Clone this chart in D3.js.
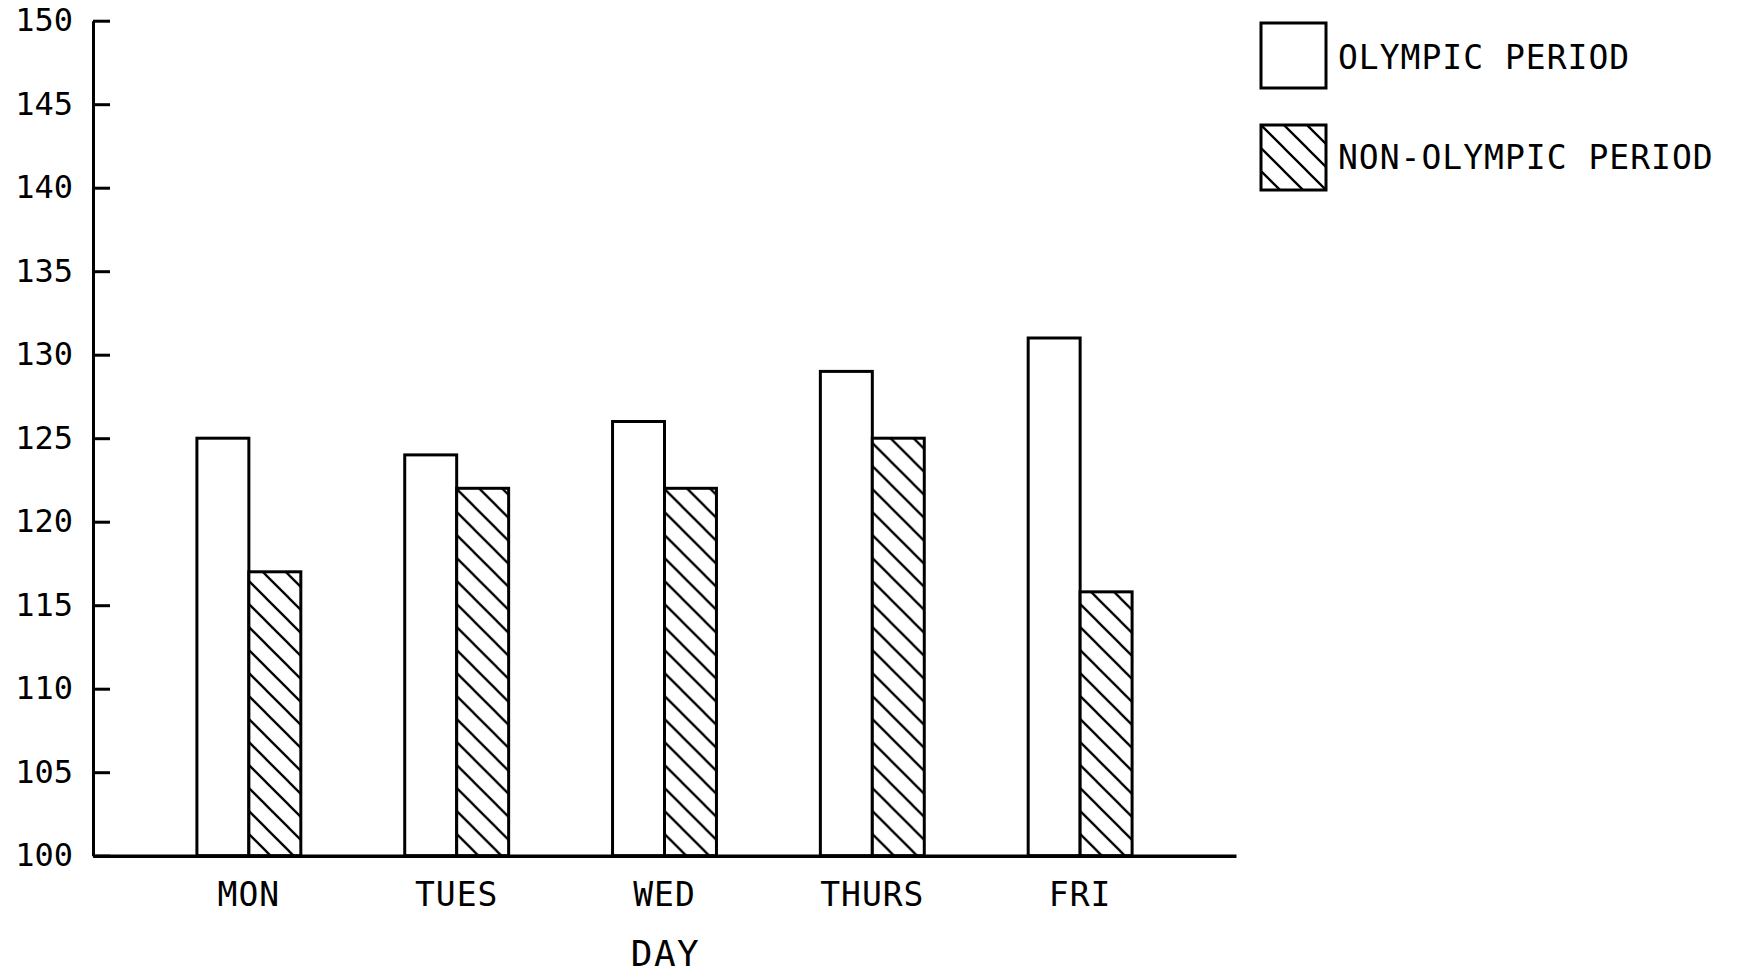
<!DOCTYPE html>
<html>
<head>
<meta charset="utf-8">
<script src="https://cdn.jsdelivr.net/npm/d3@7/dist/d3.min.js"></script>
<style>
  html, body { margin: 0; padding: 0; background: #fff; }
  svg { display: block; }
  text { font-family: "DejaVu Sans Mono", monospace; fill: #000; }
</style>
</head>
<body>
<svg id="chart" width="1737" height="976"></svg>
<script>
const days = ["MON", "TUES", "WED", "THURS", "FRI"];
const seriesNames = ["OLYMPIC PERIOD", "NON-OLYMPIC PERIOD"];
const olympic = [125, 124, 126, 129, 131];
const nonOlympic = [117, 122, 122, 125, 115.8];
const yTicks = [100, 105, 110, 115, 120, 125, 130, 135, 140, 145, 150];
const xTitle = "DAY";

const svg = d3.select("#chart");
const W = 1737, H = 976;
svg.append("rect").attr("width", W).attr("height", H).attr("fill", "#fff");

const mLeft = 93, mRight = 1236, mTop = 20.7, mBottom = 855.7;

const defs = svg.append("defs");
const P = 23;
const pat = defs.append("pattern")
  .attr("id", "hatch")
  .attr("patternUnits", "userSpaceOnUse")
  .attr("width", P).attr("height", P);
pat.append("rect").attr("width", P).attr("height", P).attr("fill", "#fff");
pat.append("path")
  .attr("d", `M${-P/2},${-P/2} L${1.5*P},${1.5*P} M${-P/2},${P/2} L${P/2},${1.5*P} M${P/2},${-P/2} L${1.5*P},${P/2}`)
  .attr("stroke", "#000").attr("stroke-width", 2.3);

const x0 = d3.scaleBand().domain(days).range([mLeft, mRight]).paddingInner(0.5).paddingOuter(0.5);
const x1 = d3.scaleBand().domain(seriesNames).range([0, x0.bandwidth()]).padding(0);
const y = d3.scaleLinear().domain([100, 150]).range([mBottom, mTop]);

const data = days.map((d, i) => ({ day: d, values: [
  { s: seriesNames[0], v: olympic[i] },
  { s: seriesNames[1], v: nonOlympic[i] }
]}));

const groups = svg.append("g").selectAll("g").data(data).join("g")
  .attr("transform", d => `translate(${x0(d.day)},0)`);
groups.selectAll("rect").data(d => d.values).join("rect")
  .attr("x", d => x1(d.s))
  .attr("y", d => y(d.v))
  .attr("width", x1.bandwidth())
  .attr("height", d => y(100) - y(d.v))
  .attr("fill", d => d.s === seriesNames[0] ? "#fff" : "url(#hatch)")
  .attr("stroke", "#000").attr("stroke-width", 3);

// Y axis
const yAxis = svg.append("g").attr("transform", `translate(${mLeft},0)`)
  .call(d3.axisLeft(y).tickValues(yTicks).tickSizeInner(-17).tickSizeOuter(0).tickPadding(20).tickFormat(d3.format("d")));
yAxis.selectAll("path, line").attr("stroke", "#000").attr("stroke-width", 3);
yAxis.selectAll("text").style("font-size", "32px")
  .attr("font-family", null).attr("fill", "#000");

// X axis
const xAxis = svg.append("g").attr("transform", `translate(0,${mBottom})`)
  .call(d3.axisBottom(x0).tickSize(0).tickPadding(0));
xAxis.select(".domain").attr("stroke", "#000").attr("stroke-width", 3.5);
xAxis.selectAll("text").attr("y", 50).attr("dy", 0)
  .style("font-size", "33px").style("letter-spacing", "1px")
  .attr("font-family", null).attr("fill", "#000");

svg.append("text")
  .attr("x", (mLeft + mRight) / 2 + 1).attr("y", 966)
  .attr("text-anchor", "middle")
  .style("font-size", "36px").style("letter-spacing", "1.5px")
  .text(xTitle);

// Legend
const legend = svg.append("g");
const lg = legend.selectAll("g").data(seriesNames).join("g")
  .attr("transform", (d, i) => `translate(1261,${23 + i * 102})`);
lg.append("rect")
  .attr("width", 65).attr("height", 65)
  .attr("fill", (d, i) => i === 0 ? "#fff" : "url(#hatch)")
  .attr("stroke", "#000").attr("stroke-width", 3);
lg.append("text")
  .attr("x", 77).attr("y", (d, i) => i === 0 ? 45.5 : 43.5)
  .style("font-size", "33px").style("letter-spacing", "1px")
  .text(d => d);
</script>
</body>
</html>
